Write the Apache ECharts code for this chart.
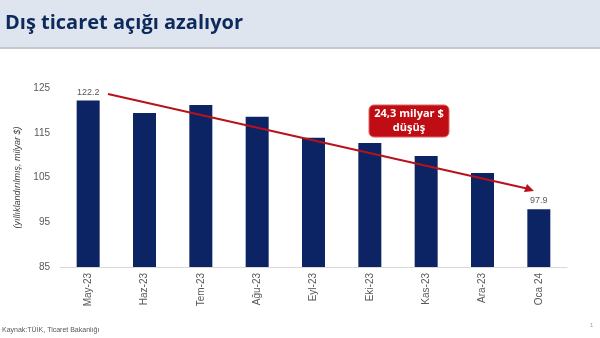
<!DOCTYPE html>
<html><head><meta charset="utf-8">
<script src="https://cdn.jsdelivr.net/npm/echarts@6/dist/echarts.min.js"></script>
<style>html,body{margin:0;padding:0;background:#fff;}#c{width:600px;height:338px;}</style>
</head><body><div id="c"></div>
<script>
var categories = ['May-23','Haz-23','Tem-23','Ağu-23','Eyl-23','Eki-23','Kas-23','Ara-23','Oca 24'];
var values = [122.2, 119.4, 121.2, 118.6, 113.9, 112.7, 109.8, 106.0, 97.9];
var labelled = [0, 8];
var yTicks = {min: 85, max: 125, interval: 10};

var chart = echarts.init(document.getElementById('c'), null, {renderer: 'canvas'});
chart.setOption({
  animation: false,
  backgroundColor: '#ffffff',
  grid: {left: 60, right: 33, top: 88, bottom: 71},
  xAxis: {
    type: 'category', data: categories,
    axisLine: {lineStyle: {color: '#d9d9d9'}},
    axisTick: {show: false},
    axisLabel: {rotate: 90, color: '#595959', fontSize: 10, fontFamily: 'Liberation Sans', margin: 6}
  },
  yAxis: {
    type: 'value', min: yTicks.min, max: yTicks.max, interval: yTicks.interval,
    splitLine: {show: false}, axisLine: {show: false}, axisTick: {show: false},
    axisLabel: {color: '#595959', fontSize: 10, fontFamily: 'Liberation Sans', margin: 10},
    name: '(yıllıklandırılmış, milyar $)', nameLocation: 'middle', nameGap: 33,
    nameTextStyle: {color: '#404040', fontSize: 9, fontStyle: 'italic', fontFamily: 'Liberation Sans'}
  },
  series: [{
    type: 'bar', barWidth: 23,
    data: values.map(function (v, i) {
      return {value: v, label: {show: labelled.indexOf(i) >= 0}};
    }),
    itemStyle: {color: '#0c2463'},
    label: {position: 'top', color: '#595959', fontSize: 9, fontFamily: 'Liberation Sans', distance: 4}
  }],
  graphic: [
    {type: 'rect', left: 0, top: 0, shape: {width: 600, height: 47}, style: {fill: '#dfe5ee'}, z: 1},
    {type: 'rect', left: 0, top: 47, shape: {width: 600, height: 2}, style: {fill: '#c3c8cf'}, z: 1},
    {type: 'text', left: 5, top: 13, style: {text: 'Dış ticaret açığı azalıyor', fill: '#0d2a5c', font: 'bold 20px "Open Sans"'}, z: 2},
    {type: 'line', shape: {x1: 108, y1: 94, x2: 529, y2: 189}, style: {stroke: '#b8121b', lineWidth: 2}, z: 10},
    {type: 'polygon', shape: {points: [[534, 191], [524, 192], [527, 184]]}, style: {fill: '#b8121b'}, z: 10},
    {type: 'rect', shape: {x: 369, y: 105, width: 80, height: 32, r: 5}, style: {fill: '#c00d14', stroke: '#e06060', lineWidth: 1}, z: 11},
    {type: 'text', x: 409, y: 121, style: {text: '24,3 milyar $\ndüşüş', fill: '#ffffff', font: 'bold 11px "Open Sans"', align: 'center', verticalAlign: 'middle', lineHeight: 14}, z: 12},
    {type: 'text', left: 2, top: 327, style: {text: 'Kaynak:TÜİK, Ticaret Bakanlığı', fill: '#595959', font: '7px "Liberation Sans"'}, z: 2},
    {type: 'text', left: 590, top: 322, style: {text: '1', fill: '#a0a0a0', font: '6px "Liberation Sans"'}, z: 2}
  ]
});
</script></body></html>
